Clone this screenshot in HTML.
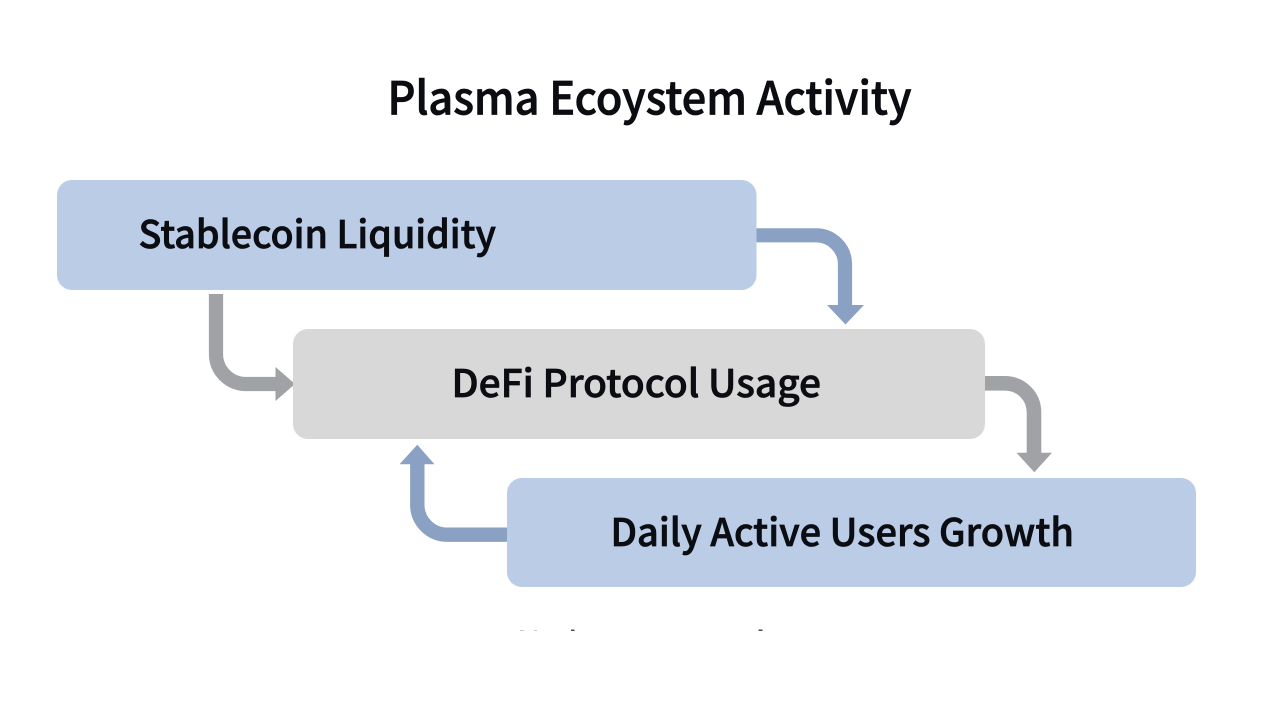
<!DOCTYPE html>
<html>
<head>
<meta charset="utf-8">
<style>
html,body{margin:0;padding:0;background:#fff;width:1280px;height:720px;overflow:hidden}
svg{display:block}
text{font-family:"Noto Sans CJK SC","Liberation Sans",sans-serif;font-weight:500;fill:#0b0d12;stroke:#0b0d12}
</style>
</head>
<body>
<svg width="1280" height="720" viewBox="0 0 1280 720" xmlns="http://www.w3.org/2000/svg">
<rect width="1280" height="720" fill="#fff"/>
<text x="387.500" y="114.500" font-size="45.500" stroke-width="0.8" textLength="524" lengthAdjust="spacingAndGlyphs">Plasma Ecoystem Activity</text>

<!-- connectors -->
<path d="M756 235.300H816A29 29 0 0 1 845 264.300V306" fill="none" stroke="#8aa1c4" stroke-width="14.200"/>
<polygon points="827,305 864,305 845.500,324.500" fill="#8aa1c4"/>

<path d="M216 294V354A30 30 0 0 0 246 384H276" fill="none" stroke="#a0a2a6" stroke-width="14.200"/>
<polygon points="275.500,367 295,384 275.500,401" fill="#a0a2a6"/>

<path d="M985 383.300H1005A29 29 0 0 1 1034 412.300V454" fill="none" stroke="#a0a2a6" stroke-width="14.600"/>
<polygon points="1016.500,452.700 1052,452.700 1034.300,472.300" fill="#a0a2a6"/>

<path d="M507 534.700H447.300A30 30 0 0 1 417.300 504.700V463" fill="none" stroke="#8aa1c4" stroke-width="14.400"/>
<polygon points="399.500,464.300 434.500,464.300 417.300,444.700" fill="#8aa1c4"/>

<!-- nodes -->
<rect x="57" y="180" width="699.500" height="110" rx="15" fill="#bbcce6"/>
<rect x="293" y="329" width="692" height="110" rx="15" fill="#d8d8d8"/>
<rect x="507" y="478" width="689" height="109" rx="15" fill="#bbcce6"/>

<text x="138.500" y="248" font-size="38" stroke-width="0.7" textLength="357.500" lengthAdjust="spacingAndGlyphs">Stablecoin Liquidity</text>
<text x="451.500" y="397" font-size="38" stroke-width="0.7" textLength="369.500" lengthAdjust="spacingAndGlyphs">DeFi Protocol Usage</text>
<text x="610.500" y="546" font-size="38" stroke-width="0.7" textLength="463.500" lengthAdjust="spacingAndGlyphs">Daily Active Users Growth</text>

<!-- clipped residue at bottom -->
<rect x="520" y="630" width="4" height="1" fill="#c4c6ca"/>
<rect x="534" y="630" width="3" height="1" fill="#c4c6ca"/>
<rect x="571" y="629.500" width="3.500" height="1.500" fill="#4a4d58"/>
<rect x="758.500" y="629.500" width="4" height="1.500" fill="#4a4d58"/>
</svg>
</body>
</html>
